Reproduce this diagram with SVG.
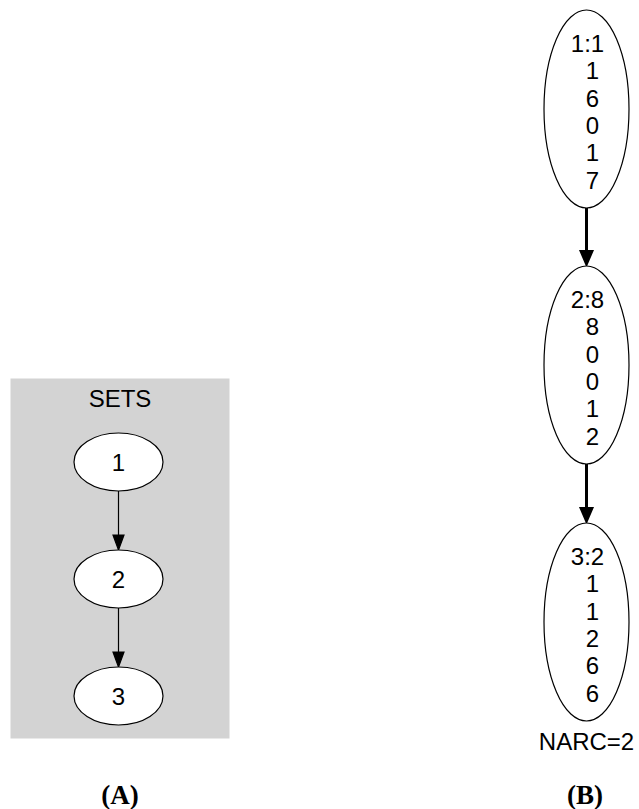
<svg xmlns="http://www.w3.org/2000/svg" width="639" height="809" viewBox="0 0 639 809">
<style>
text{font-family:"Liberation Sans",Arial,sans-serif;font-size:24px;fill:#000}
.cap{font-family:"Liberation Serif","Times New Roman",serif;font-size:27px;font-weight:bold}
.node ellipse{fill:#fff;stroke:#000;stroke-width:1.2}
.thin{stroke:#000;stroke-width:1.2;fill:none}
.thick{stroke:#000;stroke-width:3;fill:none}
.headthin{fill:#000;stroke:#000;stroke-width:1.2}
.headthick{fill:#000;stroke:#000;stroke-width:2}
</style>
<rect width="639" height="809" fill="#fff"/>
<g id="clusterSETS">
<rect x="11" y="379" width="218" height="359" fill="#d3d3d3" stroke="#d3d3d3"/>
<text x="120" y="407" text-anchor="middle">SETS</text>
</g>
<g id="connectors">
<line class="thin" x1="118.5" y1="491" x2="118.5" y2="535"/>
<polygon class="headthin" points="113,535 124,535 118.5,550"/>
<line class="thin" x1="118.5" y1="608" x2="118.5" y2="652"/>
<polygon class="headthin" points="113,652 124,652 118.5,667"/>
<line class="thick" x1="586.5" y1="208" x2="586.5" y2="251"/>
<polygon class="headthick" points="580.5,251 592.5,251 586.5,265"/>
<line class="thick" x1="586.5" y1="464" x2="586.5" y2="508"/>
<polygon class="headthick" points="580.5,508 592.5,508 586.5,522"/>
</g>
<g id="a1" class="node"><ellipse cx="118.5" cy="462" rx="44.5" ry="29"/><text x="118.5" y="471" text-anchor="middle">1</text></g>
<g id="a2" class="node"><ellipse cx="118.5" cy="579" rx="44.5" ry="29"/><text x="118.5" y="588" text-anchor="middle">2</text></g>
<g id="a3" class="node"><ellipse cx="118.5" cy="696" rx="44.5" ry="29"/><text x="118.5" y="705" text-anchor="middle">3</text></g>
<g id="b1" class="node"><ellipse cx="586.5" cy="109" rx="42.5" ry="99"/>
<text x="587.5" y="51.5" text-anchor="middle">1:1</text>
<text x="592.5" y="79" text-anchor="middle">1</text>
<text x="592.5" y="106.5" text-anchor="middle">6</text>
<text x="592.5" y="134" text-anchor="middle">0</text>
<text x="592.5" y="161" text-anchor="middle">1</text>
<text x="592.5" y="188.5" text-anchor="middle">7</text>
</g>
<g id="b2" class="node"><ellipse cx="586.5" cy="365" rx="42.5" ry="99"/>
<text x="587.5" y="308" text-anchor="middle">2:8</text>
<text x="592.5" y="335" text-anchor="middle">8</text>
<text x="592.5" y="362.5" text-anchor="middle">0</text>
<text x="592.5" y="390" text-anchor="middle">0</text>
<text x="592.5" y="417" text-anchor="middle">1</text>
<text x="592.5" y="444.5" text-anchor="middle">2</text>
</g>
<g id="b3" class="node"><ellipse cx="586.5" cy="622" rx="42.5" ry="99"/>
<text x="587.5" y="565" text-anchor="middle">3:2</text>
<text x="592.5" y="592" text-anchor="middle">1</text>
<text x="592.5" y="619.5" text-anchor="middle">1</text>
<text x="592.5" y="647" text-anchor="middle">2</text>
<text x="592.5" y="674" text-anchor="middle">6</text>
<text x="592.5" y="701.5" text-anchor="middle">6</text>
</g>
<text x="586.5" y="750" text-anchor="middle">NARC=2</text>
<text class="cap" x="120" y="804" text-anchor="middle">(A)</text>
<text class="cap" x="585" y="804" text-anchor="middle">(B)</text>
</svg>
